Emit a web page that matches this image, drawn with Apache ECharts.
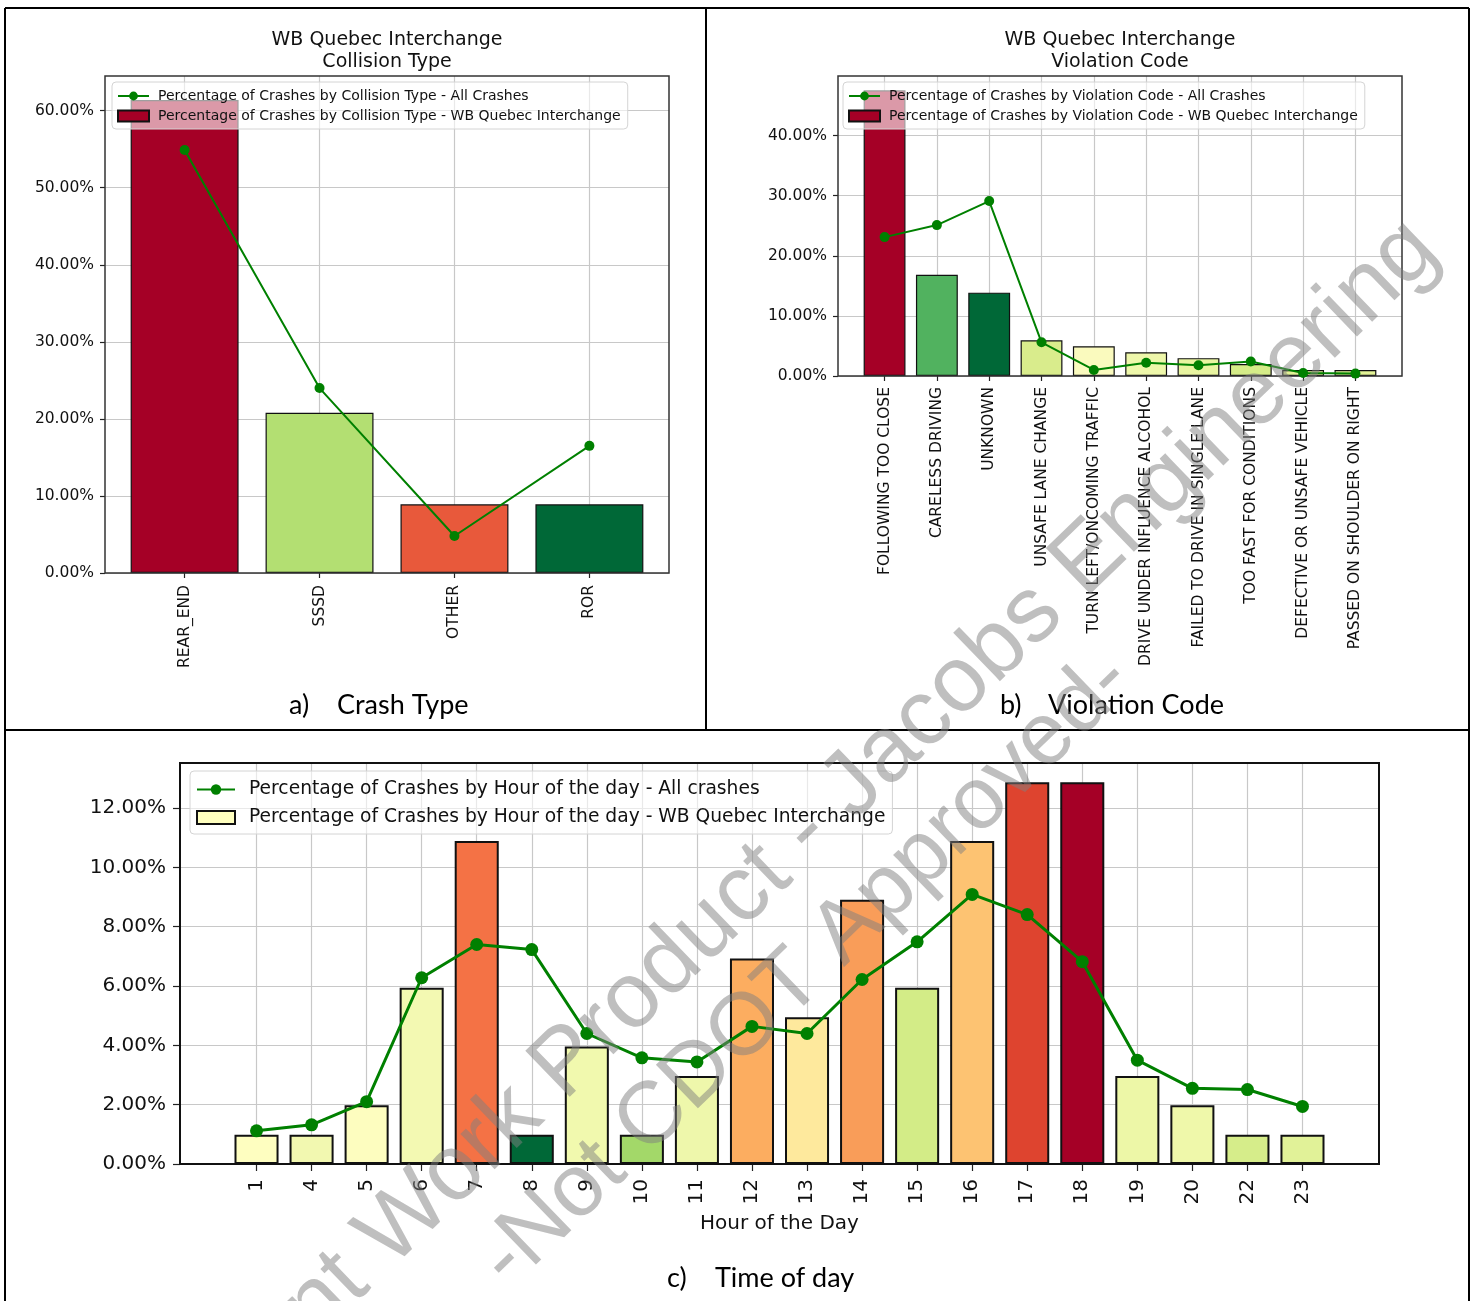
<!DOCTYPE html>
<html>
<head>
<meta charset="utf-8">
<script src="https://cdn.jsdelivr.net/npm/echarts@6/dist/echarts.min.js"></script>
<style>
  html, body { margin: 0; padding: 0; background: #ffffff; }
  #main { width: 1476px; height: 1301px; }
</style>
</head>
<body>
<div id="main"></div>
<script>
// ---- Collision type (panel a) ----
const collisionTypes = ['REAR_END', 'SSSD', 'OTHER', 'ROR'];
const collisionSite = [61.39, 20.79, 8.91, 8.91];
const collisionAll = [54.9, 24.0, 4.8, 16.5];
const collisionColors = ['#a50026', '#b3df72', '#e8593b', '#006837'];

// ---- Violation code (panel b) ----
const violationCodes = [
  'FOLLOWING TOO CLOSE', 'CARELESS DRIVING', 'UNKNOWN', 'UNSAFE LANE CHANGE',
  'TURN LEFT/ONCOMING TRAFFIC', 'DRIVE UNDER INFLUENCE ALCOHOL',
  'FAILED TO DRIVE IN SINGLE LANE', 'TOO FAST FOR CONDITIONS',
  'DEFECTIVE OR UNSAFE VEHICLE', 'PASSED ON SHOULDER ON RIGHT'
];
const violationSite = [47.52, 16.83, 13.86, 5.94, 4.95, 3.96, 2.97, 1.98, 0.99, 0.99];
const violationAll = [23.1, 25.1, 29.1, 5.6, 1.0, 2.2, 1.8, 2.4, 0.5, 0.4];
const violationColors = ['#a50026', '#51b25f', '#006837', '#d9ec8c', '#fafabe',
  '#eef7aa', '#e8f4a0', '#d5ec88', '#e2f296', '#e2f296'];

// ---- Hour of the day (panel c) ----
const hours = ['1', '4', '5', '6', '7', '8', '9', '10', '11', '12',
  '13', '14', '15', '16', '17', '18', '19', '20', '22', '23'];
const hourSite = [0.99, 0.99, 1.98, 5.94, 10.89, 0.99, 3.96, 0.99, 2.97, 6.93,
  4.95, 8.91, 5.94, 10.89, 12.87, 12.87, 2.97, 1.98, 0.99, 0.99];
const hourAll = [1.12, 1.32, 2.10, 6.28, 7.40, 7.23, 4.40, 3.58, 3.44, 4.64,
  4.40, 6.22, 7.49, 9.09, 8.41, 6.82, 3.50, 2.55, 2.51, 1.94];
const hourColors = ['#fefec0', '#f2f8b0', '#fdfdbf', '#f3f9b2', '#f47245', '#006837',
  '#f1f9ae', '#a3d869', '#eef7ab', '#fcad60', '#fee99d', '#f99d59', '#d3ec87',
  '#fdc372', '#de442f', '#a50026', '#edf7a7', '#eff8aa', '#d6ed8a', '#e1f298'];

const yTicksA = [0, 10, 20, 30, 40, 50, 60];
const yTicksB = [0, 10, 20, 30, 40];
const yTicksC = [0, 2, 4, 6, 8, 10, 12];

const FONT = 'DejaVu Sans';
const GREEN = '#008000';

// plot-area layout (pixels)
const G = [
  { left: 105, top: 76, width: 564, height: 497 },
  { left: 838, top: 76, width: 564, height: 300 },
  { left: 180, top: 763, width: 1199, height: 401 }
];

const pct = v => v.toFixed(2) + '%';
const idx = arr => arr.map((_, i) => i);

function xAxisCfg(gi, cats, lo, hi, fs, margin, tickLen, extra) {
  return Object.assign({
    type: 'value', gridIndex: gi, min: lo, max: hi, minInterval: 1, maxInterval: 1,
    axisLine: { show: false, onZero: false },
    axisTick: { show: true, length: tickLen, customValues: idx(cats),
      lineStyle: { color: '#222', width: 1.2 } },
    axisLabel: { customValues: idx(cats), rotate: 90, margin: margin, fontSize: fs,
      color: '#111', fontFamily: FONT,
      formatter: v => (Number.isInteger(v) && cats[v] !== undefined) ? cats[v] : '' },
    splitLine: { show: true, lineStyle: { color: '#c8c8c8', width: 1.2 } }
  }, extra || {});
}

function yAxisCfg(gi, ticks, max, interval, fs, margin, tickLen) {
  return {
    type: 'value', gridIndex: gi, min: 0, max: max, interval: interval,
    axisLine: { show: false, onZero: false },
    axisTick: { show: true, length: tickLen, customValues: ticks,
      lineStyle: { color: '#222', width: 1.2 } },
    axisLabel: { customValues: ticks, margin: margin, fontSize: fs, color: '#111',
      fontFamily: FONT,
      formatter: v => (v <= ticks[ticks.length - 1] + 1e-6) ? pct(v) : '' },
    splitLine: { show: true, lineStyle: { color: '#c8c8c8', width: 1.2 } }
  };
}

function barSeries(gi, name, vals, colors, seriesColor, bw) {
  return {
    type: 'bar', name: name, xAxisIndex: gi, yAxisIndex: gi, barWidth: '80%', z: 2,
    itemStyle: { color: seriesColor, borderColor: '#111', borderWidth: bw },
    data: vals.map((v, i) => ({ value: [i, v], itemStyle: { color: colors[i] } }))
  };
}

function lineSeries(gi, name, vals, size, width) {
  return {
    type: 'line', name: name, xAxisIndex: gi, yAxisIndex: gi, z: 3,
    symbol: 'circle', symbolSize: size, showSymbol: true,
    itemStyle: { color: GREEN }, lineStyle: { color: GREEN, width: width },
    data: vals.map((v, i) => [i, v])
  };
}

function legendCfg(left, top, names, fs, iw, ih, gap, pad, textPad) {
  return {
    orient: 'vertical', left: left, top: top, selectedMode: false,
    itemWidth: iw, itemHeight: ih, itemGap: gap, padding: pad,
    backgroundColor: 'rgba(255,255,255,0.6)', borderColor: '#d4d4d4', borderWidth: 1,
    borderRadius: 4,
    textStyle: { fontSize: fs, color: '#111', fontFamily: FONT, padding: [0, 0, 0, textPad] },
    data: [{ name: names[0] }, { name: names[1], icon: 'rect' }]
  };
}

const nA = ['Percentage of Crashes by Collision Type - All Crashes',
  'Percentage of Crashes by Collision Type - WB Quebec Interchange'];
const nB = ['Percentage of Crashes by Violation Code - All Crashes',
  'Percentage of Crashes by Violation Code - WB Quebec Interchange'];
const nC = ['Percentage of Crashes by Hour of the day - All crashes',
  'Percentage of Crashes by Hour of the day - WB Quebec Interchange'];

// frames around each plot area
const frames = G.map((g, i) => ({
  type: 'rect', z: 3, silent: true,
  shape: { x: g.left, y: g.top, width: g.width, height: g.height },
  style: { fill: 'none', stroke: i === 2 ? '#111' : '#333', lineWidth: i === 2 ? 2 : 1.5 }
}));

// page borders separating the three figures
const rules = [
  [5, 8, 1469, 8], [5, 8, 5, 1301], [1469, 8, 1469, 1301],
  [706, 8, 706, 730], [5, 730, 1469, 730]
].map(s => ({
  type: 'line', silent: true, z: 3,
  shape: { x1: s[0], y1: s[1], x2: s[2], y2: s[3] },
  style: { stroke: '#000', lineWidth: 2 }
}));

function caption(x, y, text) {
  return {
    type: 'text', silent: true, z: 3, x: x, y: y,
    style: { text: text, font: '27px Lato', fill: '#000',
      align: 'left', verticalAlign: 'middle', textAlign: 'left', textVerticalAlign: 'middle' }
  };
}

const captions = [
  caption(289, 705, 'a)'), caption(337, 705, 'Crash Type'),
  caption(1000, 705, 'b)'), caption(1048, 705, 'Violation Code'),
  caption(667, 1278, 'c)'), caption(715, 1278, 'Time of day')
];

// draft watermark across the page
const WM_ROT = 44 * Math.PI / 180;
const watermark = [
  { text: 'Consultant Work Product - Jacobs Engineering', x: 1424, y: 236, align: 'right', size: 93 },
  { text: '-Not CDOT Approved-', x: 806, y: 970, align: 'center', size: 88 }
].map(w => ({
  type: 'text', silent: true, z: 50, x: w.x, y: w.y, rotation: WM_ROT,
  style: { text: w.text, font: w.size + 'px "Liberation Sans", Arial, sans-serif',
    fill: 'rgba(128,128,128,0.5)', align: w.align, verticalAlign: 'middle',
    textAlign: w.align, textVerticalAlign: 'middle' }
}));

const titleStyle = { fontSize: 19, fontWeight: 'normal', color: '#111', lineHeight: 22, fontFamily: FONT };

const option = {
  animation: false,
  backgroundColor: '#ffffff',
  textStyle: { fontFamily: FONT },
  title: [
    { text: 'WB Quebec Interchange\nCollision Type', left: 382, top: 24, textAlign: 'center',
      textStyle: titleStyle },
    { text: 'WB Quebec Interchange\nViolation Code', left: 1115, top: 24, textAlign: 'center',
      textStyle: titleStyle }
  ],
  grid: G.map(g => Object.assign({ containLabel: false, show: false }, g)),
  xAxis: [
    xAxisCfg(0, collisionTypes, -0.59, 3.59, 15.5, 12, 5),
    xAxisCfg(1, violationCodes, -0.89, 9.89, 15.5, 11, 5),
    xAxisCfg(2, hours, -1.39, 20.39, 20, 15, 7, {
      name: 'Hour of the Day', nameLocation: 'middle', nameGap: 50,
      nameTextStyle: { fontSize: 20, color: '#111', fontFamily: FONT }
    })
  ],
  yAxis: [
    yAxisCfg(0, yTicksA, 64.5, 10, 15.5, 11, 5),
    yAxisCfg(1, yTicksB, 49.9, 10, 15.5, 11, 5),
    yAxisCfg(2, yTicksC, 13.52, 2, 20, 14, 7)
  ],
  legend: [
    legendCfg(112, 82, nA, 14, 31, 11, 6, [7, 7, 6, 5], 4),
    legendCfg(843, 82, nB, 14, 31, 11, 6, [7, 7, 6, 5], 4),
    legendCfg(190, 771, nC, 18.7, 38, 13, 9, [9, 7, 7, 6], 9)
  ],
  series: [
    barSeries(0, nA[1], collisionSite, collisionColors, '#a50026', 1.2),
    lineSeries(0, nA[0], collisionAll, 10, 2),
    barSeries(1, nB[1], violationSite, violationColors, '#a50026', 1.2),
    lineSeries(1, nB[0], violationAll, 10, 2),
    barSeries(2, nC[1], hourSite, hourColors, '#ffffbf', 2),
    lineSeries(2, nC[0], hourAll, 13, 3)
  ],
  graphic: { elements: frames.concat(rules, captions, watermark) }
};

const chart = echarts.init(document.getElementById('main'), null, { renderer: 'canvas', width: 1476, height: 1301 });
chart.setOption(option);
</script>
</body>
</html>
